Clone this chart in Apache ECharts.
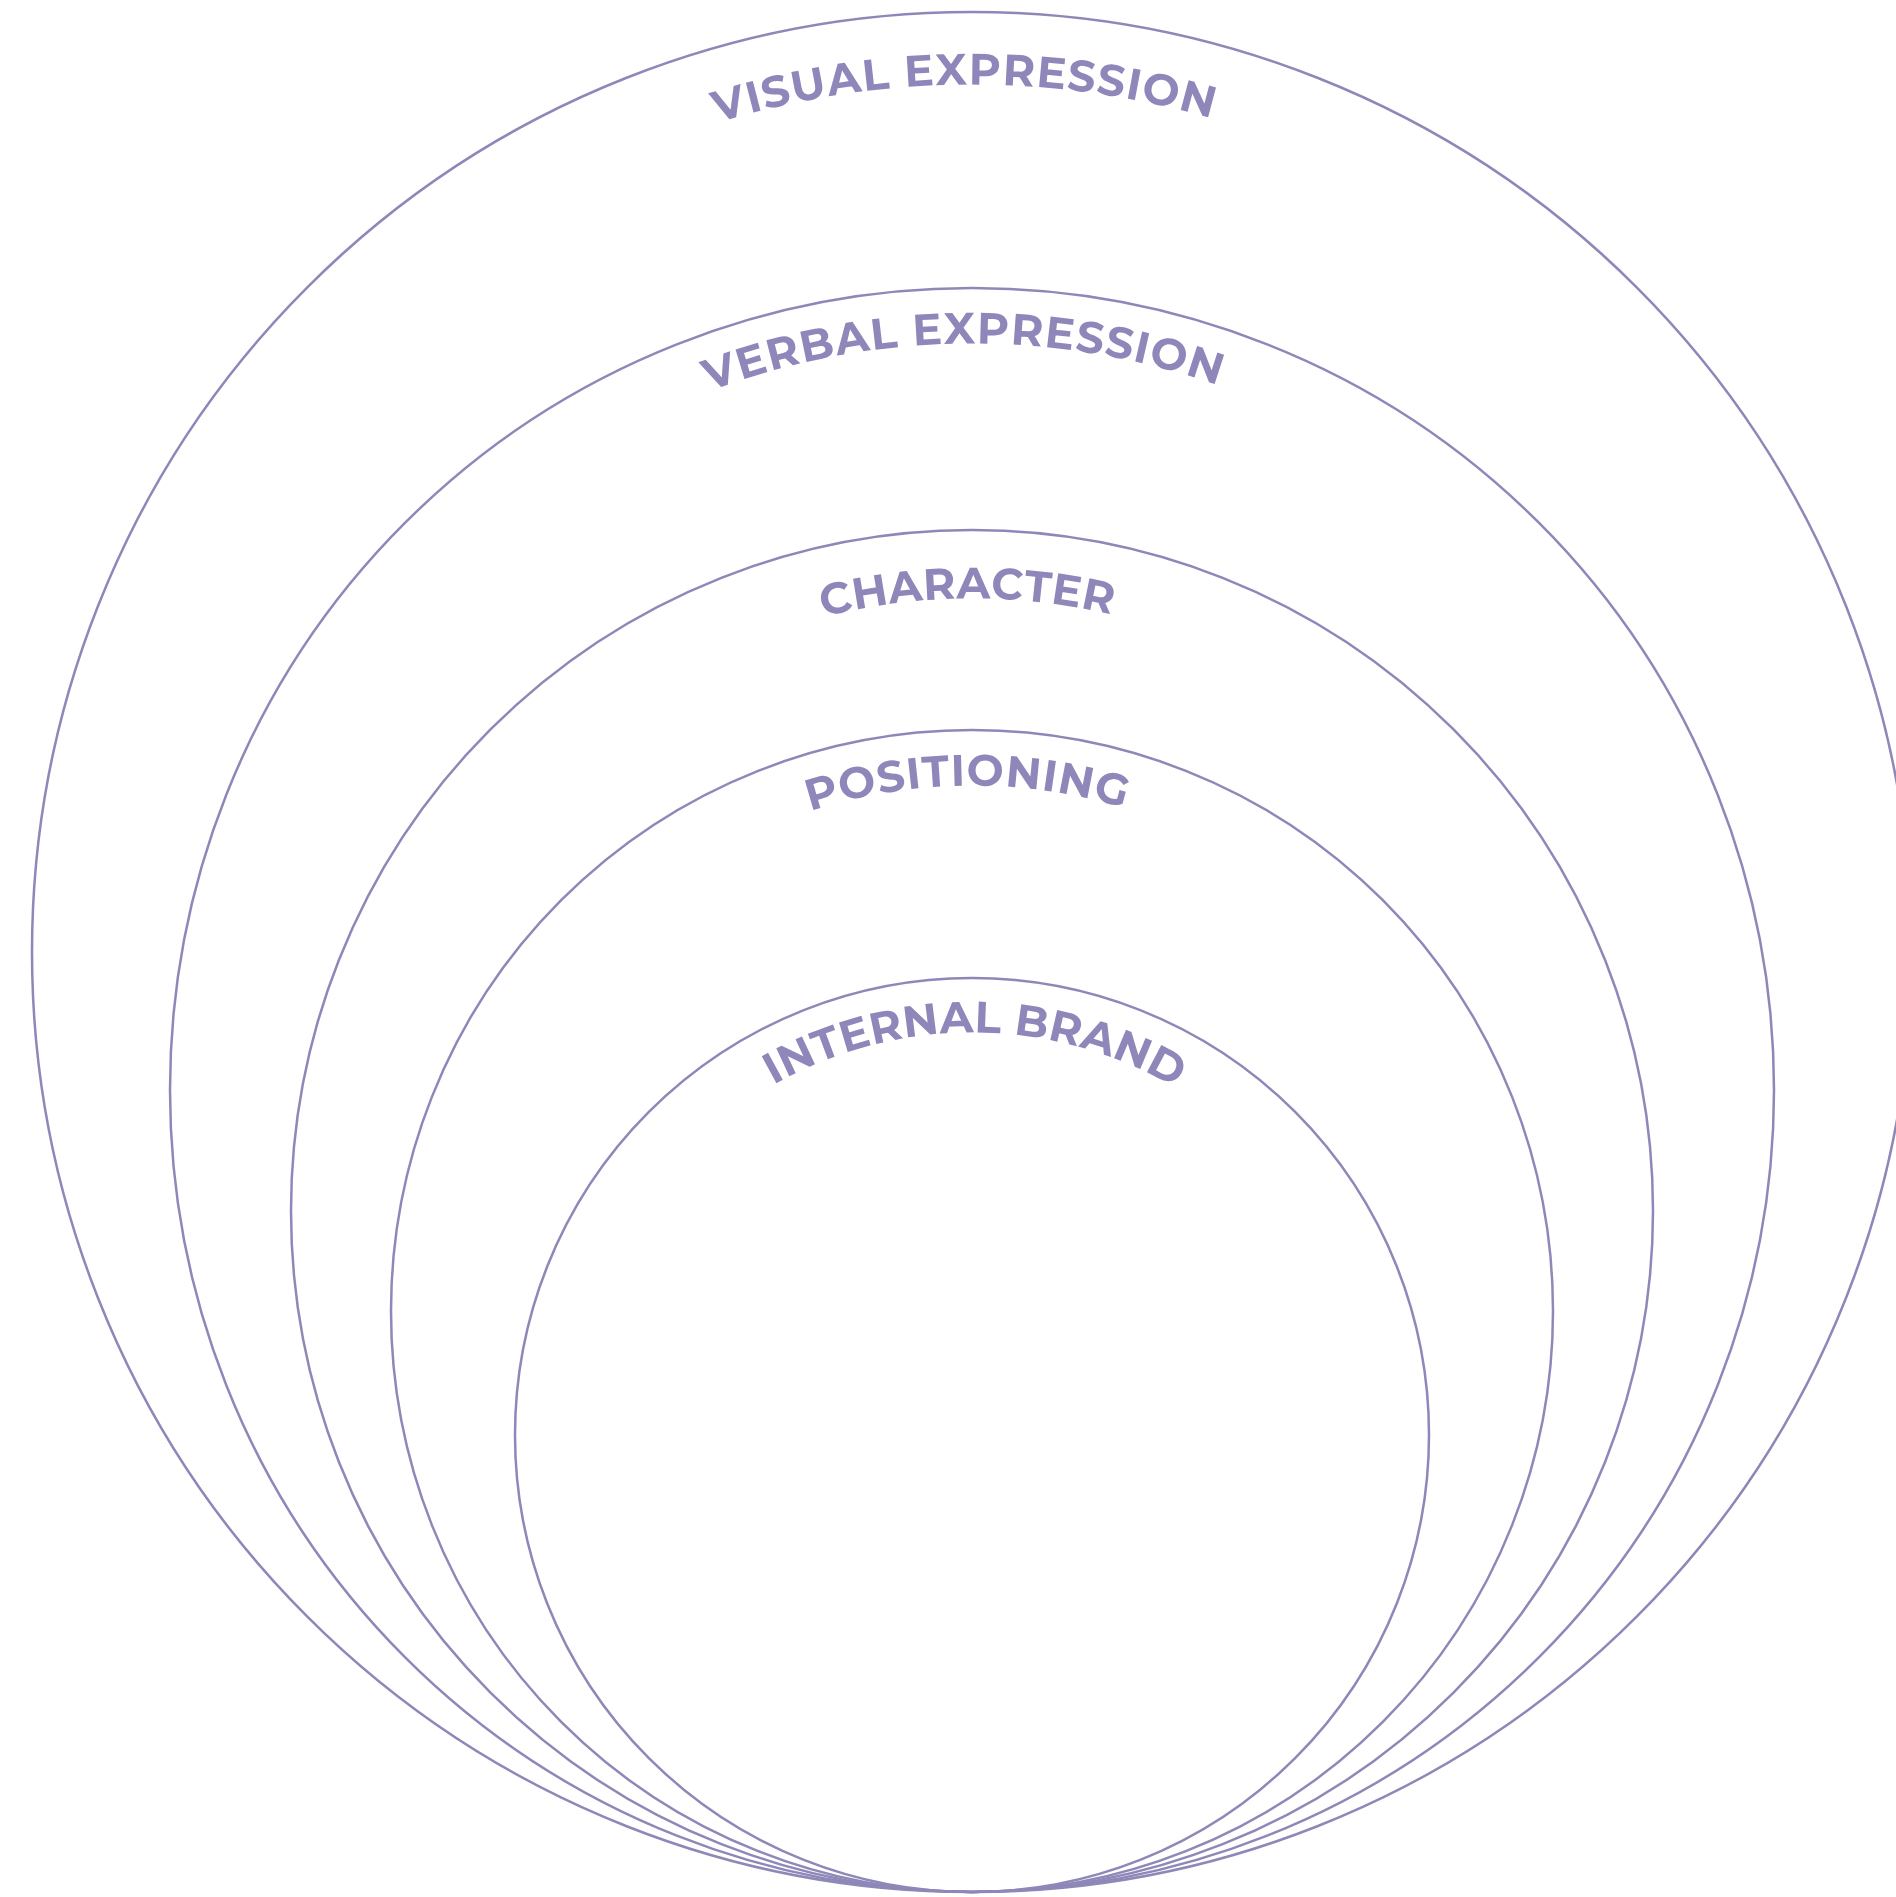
<!DOCTYPE html>
<html>
<head>
<meta charset="utf-8">
<script src="https://cdn.jsdelivr.net/npm/echarts@6/dist/echarts.min.js"></script>
<style>
  html, body { margin: 0; padding: 0; background: #ffffff; }
  #chart { width: 1896px; height: 1897px; }
</style>
</head>
<body>
<div id="chart"></div>
<script>
// ---- data ----
const categories = ['VISUAL EXPRESSION', 'VERBAL EXPRESSION', 'CHARACTER', 'POSITIONING', 'INTERNAL BRAND'];
const radii = [940, 802, 681, 581, 457];

// ---- layout (not data) ----
const W = 1896, H = 1897;
const tangentX = 972, tangentY = 1892;          // common bottom tangent point (axis units)
const labelInset = [75, 58, 71, 58, 57];         // circle radius minus label baseline radius
const labelArc = [500, 518, 290, 318, 419];      // arc length occupied by the label
const labelShift = [-8, -9, -5, -5, 3];          // shift of label centre along the arc
const fontSize = 44;
const fontWeight = 700;
const fontFamily = 'Montserrat, "Noto Sans", sans-serif';
const lineColor = '#8e88b8';
const textColor = '#8f87ba';

const measureCtx = document.createElement('canvas').getContext('2d');
measureCtx.font = fontWeight + ' ' + fontSize + 'px ' + fontFamily;

const chart = echarts.init(document.getElementById('chart'), null, { renderer: 'canvas' });

const circleData = radii.map((r, i) => [tangentX, tangentY, r, i]);

chart.setOption({
  backgroundColor: '#ffffff',
  animation: false,
  grid: { left: 0, right: 0, top: 0, bottom: 0 },
  xAxis: { type: 'value', min: 0, max: W, show: false },
  yAxis: { type: 'value', min: 0, max: H, inverse: true, show: false },
  series: [
    {
      type: 'custom',
      name: 'rings',
      clip: false,
      silent: true,
      data: circleData,
      renderItem: function (params, api) {
        const cx = api.value(0), by = api.value(1), r = api.value(2);
        const c = api.coord([cx, by - r]);
        const rp = api.size([r, 0])[0];
        return {
          type: 'circle',
          shape: { cx: c[0], cy: c[1], r: rp },
          style: { fill: 'none', stroke: lineColor, lineWidth: 2.5 }
        };
      }
    },
    {
      type: 'custom',
      name: 'labels',
      clip: false,
      silent: true,
      data: circleData,
      renderItem: function (params, api) {
        const i = api.value(3);
        const cx = api.value(0), by = api.value(1), r = api.value(2);
        const c = api.coord([cx, by - r]);
        const scale = api.size([1, 0])[0];
        const text = categories[i];
        const chars = text.split('');
        const widths = chars.map(ch => measureCtx.measureText(ch).width);
        const natural = widths.reduce((a, b) => a + b, 0);
        const L = labelArc[i] * scale;
        const spacing = (L - natural) / (chars.length - 1);
        const rb = (r - labelInset[i]) * scale;
        const capH = fontSize * 0.70;
        const rm = rb + capH / 2;
        let pos = -L / 2 + labelShift[i] * scale;
        const children = [];
        chars.forEach((ch, k) => {
          const mid = pos + widths[k] / 2;
          pos += widths[k] + spacing;
          if (ch === ' ') return;
          const th = mid / rb;
          children.push({
            type: 'text',
            x: c[0] + rm * Math.sin(th),
            y: c[1] - rm * Math.cos(th),
            rotation: -th,
            style: {
              text: ch,
              fill: textColor,
              fontSize: fontSize,
              fontWeight: fontWeight,
              fontFamily: fontFamily,
              align: 'center',
              verticalAlign: 'middle'
            }
          });
        });
        return { type: 'group', children: children };
      }
    }
  ]
});
</script>
</body>
</html>
